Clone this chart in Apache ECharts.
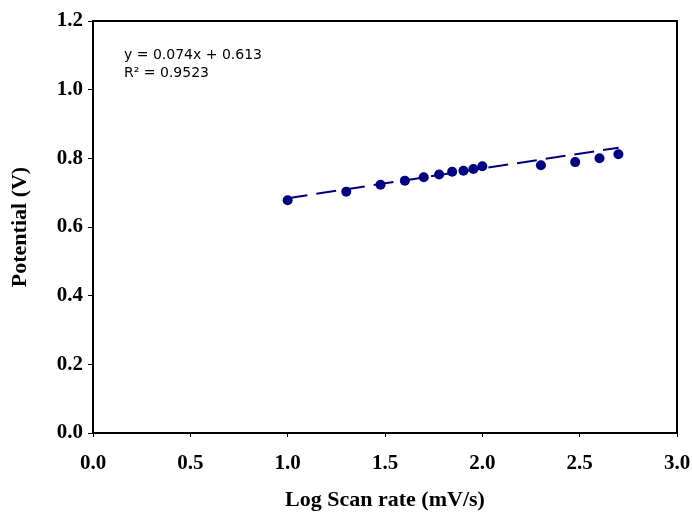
<!DOCTYPE html>
<html>
<head>
<meta charset="utf-8">
<script src="https://cdn.jsdelivr.net/npm/echarts@6/dist/echarts.min.js"></script>
<style>
  html, body { margin: 0; padding: 0; background: #fff; }
  #chart { width: 692px; height: 514px; }
</style>
</head>
<body>
<div id="chart"></div>
<script>
// log of scan rate (mV/s) and measured peak potential (V)
const logScanRate = [1.0, 1.301, 1.477, 1.602, 1.699, 1.778, 1.845, 1.903, 1.954, 2.0, 2.301, 2.477, 2.602, 2.699];
const potential = [0.678, 0.703, 0.723, 0.735, 0.745, 0.753, 0.761, 0.764, 0.769, 0.777, 0.780, 0.789, 0.800, 0.812];

// end points of the linear trendline as drawn
const trendX = [1.0, 2.7];
const trendY = [0.684, 0.831];

const xTicks = ['0.0', '0.5', '1.0', '1.5', '2.0', '2.5', '3.0'];
const yTicks = ['0.0', '0.2', '0.4', '0.6', '0.8', '1.0', '1.2'];

const equationText = 'y = 0.074x + 0.613';
const r2Text = 'R² = 0.9523';

const chart = echarts.init(document.getElementById('chart'));

const serif = '"Liberation Serif", "Times New Roman", serif';

const option = {
  backgroundColor: '#fff',
  animation: false,
  grid: {
    left: 93,
    right: 15,
    top: 21,
    bottom: 81,
    outerBoundsMode: 'none',
    containLabel: false,
    show: true,
    borderColor: '#000',
    borderWidth: 2
  },
  xAxis: {
    type: 'value',
    min: 0,
    max: 3,
    interval: 0.5,
    name: 'Log Scan rate (mV/s)',
    nameLocation: 'middle',
    nameGap: 56,
    nameTextStyle: { fontFamily: serif, fontWeight: 'bold', fontSize: 22, color: '#000' },
    axisLine: { lineStyle: { color: '#000', width: 2 } },
    axisTick: { show: true, length: 4, lineStyle: { color: '#000', width: 1 } },
    axisLabel: {
      margin: 20,
      fontFamily: serif,
      fontWeight: 'bold',
      fontSize: 21,
      color: '#000',
      formatter: function (v) { return xTicks[Math.round(v / 0.5)]; }
    },
    splitLine: { show: false }
  },
  yAxis: {
    type: 'value',
    min: 0,
    max: 1.2,
    interval: 0.2,
    name: 'Potential (V)',
    nameLocation: 'middle',
    nameGap: 62,
    nameTextStyle: { fontFamily: serif, fontWeight: 'bold', fontSize: 22, color: '#000' },
    axisLine: { lineStyle: { color: '#000', width: 2 } },
    axisTick: { show: true, length: 5, lineStyle: { color: '#000', width: 1 } },
    axisLabel: {
      margin: 10,
      fontFamily: serif,
      fontWeight: 'bold',
      fontSize: 21,
      color: '#000',
      formatter: function (v) { return yTicks[Math.round(v / 0.2)]; }
    },
    splitLine: { show: false }
  },
  graphic: [
    {
      type: 'text',
      left: 124,
      top: 46,
      style: {
        text: equationText + '\n' + r2Text,
        fontFamily: '"DejaVu Sans", Arial, sans-serif',
        fontSize: 14,
        lineHeight: 18,
        fill: '#000'
      }
    }
  ],
  series: [
    {
      type: 'line',
      data: trendX.map(function (x, i) { return [x, trendY[i]]; }),
      showSymbol: false,
      symbol: 'none',
      lineStyle: { color: '#000080', width: 2, type: [20, 9] },
      z: 2
    },
    {
      type: 'scatter',
      data: logScanRate.map(function (x, i) { return [x, potential[i]]; }),
      symbol: 'circle',
      symbolSize: 10,
      itemStyle: { color: '#000080', opacity: 1 },
      z: 3
    }
  ]
};

chart.setOption(option);
</script>
</body>
</html>
